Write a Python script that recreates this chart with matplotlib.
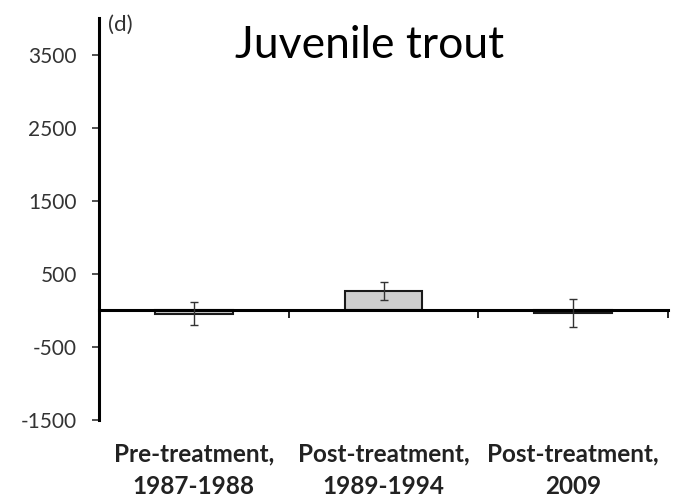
import matplotlib
matplotlib.use("Agg")
import matplotlib.pyplot as plt
import matplotlib.transforms as mtransforms
import numpy as np

categories = ["Pre-treatment,\n1987-1988", "Post-treatment,\n1989-1994", "Post-treatment,\n2009"]
values = [-45, 265, -35]
errors = [155, 125, 195]
yticks = [-1500, -500, 500, 1500, 2500, 3500]

W, H = 679, 497
fig = plt.figure(figsize=(W / 100, H / 100), dpi=100)
ax = fig.add_axes([99 / W, 1 - 420 / H, (668 - 99) / W, (420 - 18) / H])

x = np.arange(len(categories))
ax.bar(x, values, width=0.41, color="#cfcfcf", edgecolor="#1a1a1a", linewidth=1.5, zorder=2)
ax.errorbar(x, values, yerr=errors, fmt="none", ecolor="#333333", elinewidth=1.0,
            capsize=3, capthick=1.0, zorder=3)

ax.set_xlim(-0.5, 2.5)
ax.set_ylim(-1500, 4000)

ax.spines["top"].set_visible(False)
ax.spines["right"].set_visible(False)
ax.spines["bottom"].set_position(("data", 0))
ax.spines["left"].set_linewidth(2.2)
ax.spines["bottom"].set_linewidth(2.2)

font = ["Lato", "DejaVu Sans"]
ax.set_yticks(yticks)
ax.set_yticklabels([str(v) for v in yticks], family=font, fontsize=15, color="#3a3a3a")
ax.tick_params(axis="y", direction="out", length=5, width=1.2, pad=11, colors="#333333")

ax.set_xticks([0.5, 1.5, 2.5])
ax.set_xticklabels([])
ax.tick_params(axis="x", direction="out", length=6, width=1.2)

trans = mtransforms.blended_transform_factory(ax.transData, fig.transFigure)
for i, lab in enumerate(categories):
    ax.text(i, 1 - 470 / H, lab, transform=trans, ha="center", va="center",
            family=font, fontsize=17.5, fontweight="bold", color="#222222",
            linespacing=1.5, clip_on=False)

fig.text(108 / W, 1 - 25 / H, "(d)", family=font, fontsize=16, color="#333333",
         ha="left", va="center")
fig.text(370 / W, 1 - 46 / H, "Juvenile trout", family=font,
         fontsize=32, color="black", ha="center", va="center")

fig.savefig("out.png", dpi=100)
